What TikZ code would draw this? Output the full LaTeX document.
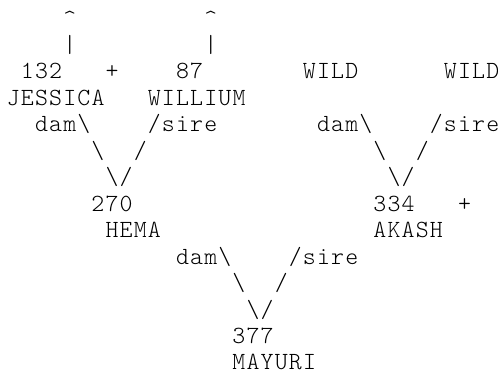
\documentclass[tikz,border=0pt]{standalone}
\usepackage{fontspec}
\newfontfamily\asciitt[LetterSpace=4.7]{Latin Modern Mono Light}
\newcommand\asciifont{\fontsize{18.5}{20}\selectfont\asciitt}
\newcommand\bs{\textbackslash}
\tikzset{
  ascii/.style={font=\asciifont,inner sep=0pt,anchor=base west},
}

\begin{document}
\begin{tikzpicture}[x=0.75pt,y=-0.75pt]
  \useasboundingbox (0,0) rectangle (498,374);
  % character grid: column width 14.1, row height 26.45
  \foreach \r/\c/\txt/\nm in {
      0/4/{\textasciicircum}/upA, 0/14/{\textasciicircum}/upB,
      1/4/{|}/barA, 1/14/{|}/barB,
      2/1/{132}/nJessica, 2/7/{+}/plusA, 2/12/{87}/nWillium, 2/21/{WILD}/wildA, 2/31/{WILD}/wildB,
      3/0/{JESSICA}/jessica, 3/10/{WILLIUM}/willium,
      4/2/{dam\bs}/damHema, 4/10/{/sire}/sireHema, 4/22/{dam\bs}/damAkash, 4/30/{/sire}/sireAkash,
      5/6/{\bs}/lHema, 5/9/{/}/rHema, 5/26/{\bs}/lAkash, 5/29/{/}/rAkash,
      6/7/{\bs/}/vHema, 6/27/{\bs/}/vAkash,
      7/6/{270}/nHema, 7/26/{334}/nAkash, 7/32/{+}/plusB,
      8/7/{HEMA}/hema, 8/26/{AKASH}/akash,
      9/12/{dam\bs}/damMayuri, 9/20/{/sire}/sireMayuri,
      10/16/{\bs}/lMayuri, 10/19/{/}/rMayuri,
      11/17/{\bs/}/vMayuri,
      12/16/{377}/nMayuri,
      13/16/{MAYURI}/mayuri}{
    \node[ascii] (\nm) at ({6.6+14.1*\c},{26.1+26.45*\r}) {\txt};
  }
\end{tikzpicture}
\end{document}
